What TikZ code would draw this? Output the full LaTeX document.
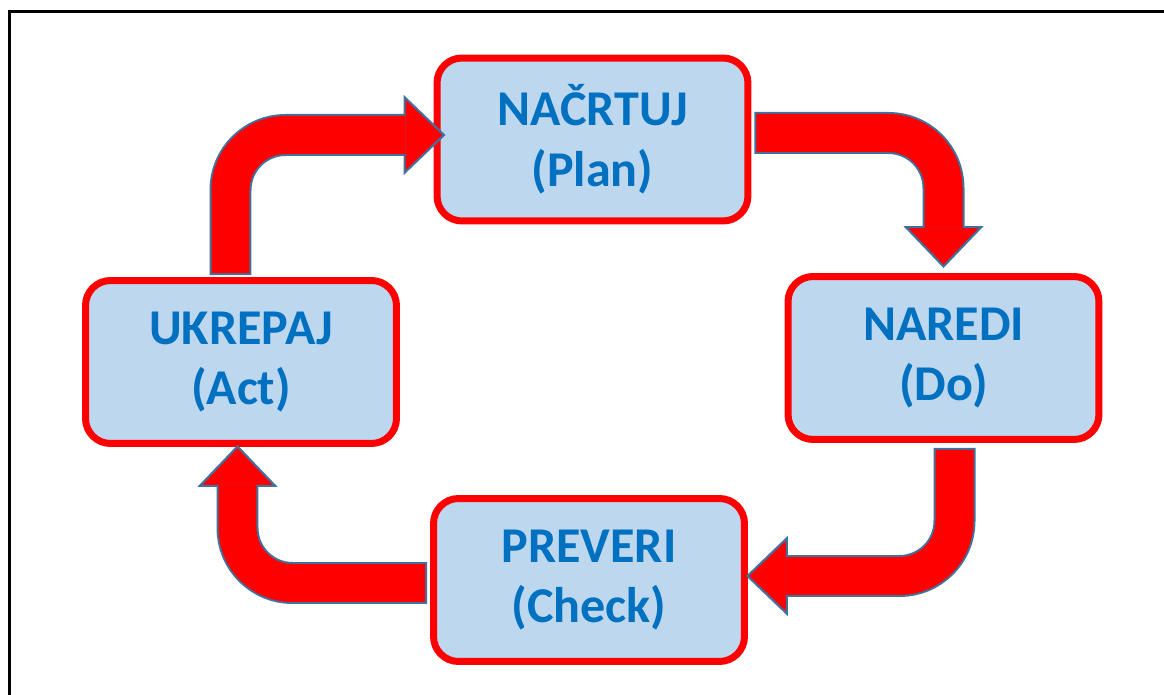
\documentclass[tikz,border=0pt]{standalone}
\usepackage{fontspec}
\setmainfont{Carlito}
\usepackage{xcolor}
\usetikzlibrary{arrows.meta}

\definecolor{boxfill}{HTML}{BDD7EE}
\definecolor{boxtext}{HTML}{0070C0}
\definecolor{cyclered}{HTML}{FF0000}
\definecolor{arrowedge}{HTML}{41719C}

\begin{document}
\begin{tikzpicture}[x=0.02cm, y=-0.02cm,
  stage/.style={draw=cyclered, line width=0.14cm, fill=boxfill, rounded corners=0.5cm,
    minimum width=6.22cm, minimum height=3.26cm, align=center, text=boxtext,
    font=\fontsize{28.5}{34.5}\selectfont\bfseries},
  bent/.style={draw=arrowedge, line width=0.84cm, rounded corners=1.1cm,
    -{Triangle[length=0.84cm, width=1.6cm, line width=1.2pt, color=arrowedge, fill=cyclered]},
    postaction={draw=cyclered, line width=0.76cm, arrows=-, shorten >=0.8cm, shorten <=0.04cm}}]
  \useasboundingbox (0,0) rectangle (1164,695);

  % Frame
  \draw[line width=0.06cm] (9.5,695) -- (9.5,11.5) -- (1164,11.5);

  % PDCA stages
  \node[stage] (plan) at (592.5,139.5) {NAČRTUJ\\(Plan)};
  \node[stage] (naredi) at (943.5,358) {NAREDI\\(Do)};
  \node[stage] (preveri) at (589,580) {PREVERI\\(Check)};
  \node[stage] (ukrepaj) at (241,362) {UKREPAJ\\(Act)};

  % Cycle arrows
  \draw[bent] ([xshift=-0.21cm, yshift=0.04cm]ukrepaj.north) |- ([xshift=0.24cm, yshift=0.09cm]plan.west);
  \draw[bent] ([xshift=0.06cm, yshift=0.13cm]plan.east) -| ([yshift=0.1cm]naredi.north);
  \draw[bent] ([xshift=0.22cm, yshift=-0.1cm]naredi.south) |- ([xshift=-0.04cm, yshift=0.08cm]preveri.east);
  \draw[bent] ([xshift=-0.06cm, yshift=-0.06cm]preveri.west) -| ([xshift=-0.07cm, yshift=0.04cm]ukrepaj.south);

\end{tikzpicture}
\end{document}
